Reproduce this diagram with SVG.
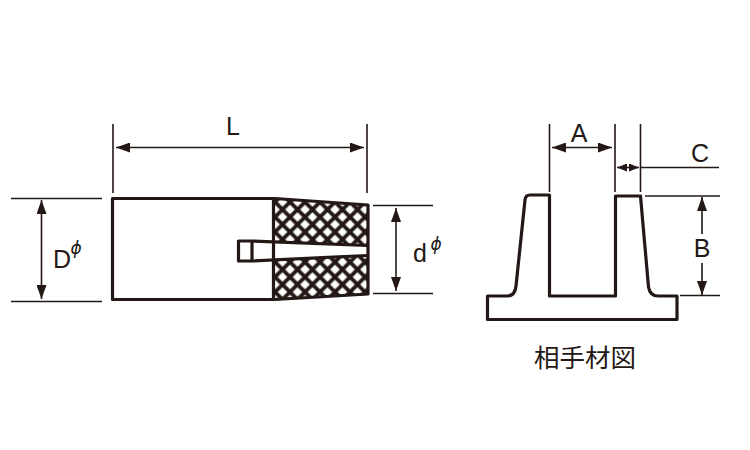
<svg xmlns="http://www.w3.org/2000/svg" width="750" height="450" viewBox="0 0 750 450">
<style>
.o{fill:none;stroke:#231815;stroke-width:3.200;stroke-linejoin:round}
.d{fill:none;stroke:#231815;stroke-width:1.600}
.a{fill:none;stroke:#231815;stroke-width:1.600;marker-start:url(#ah);marker-end:url(#ah)}
.b{fill:none;stroke:#231815;stroke-width:1.600;marker-start:url(#ah)}
.s{fill:none;stroke:#231815;stroke-width:1.600;marker-start:url(#as);marker-end:url(#as)}
.t{font-family:"Liberation Sans",Arial,sans-serif;font-size:25px;fill:#231815;text-anchor:middle}
.p{font-family:"DejaVu Sans",sans-serif;font-style:italic;font-size:17px;fill:#231815;text-anchor:middle}
</style>
<defs>
<marker id="ah" viewBox="0 0 14 10" refX="14" refY="5" markerWidth="14" markerHeight="10" markerUnits="userSpaceOnUse" orient="auto-start-reverse"><path d="M14 5L0 0V10Z" fill="#231815"/></marker>
<marker id="as" viewBox="0 0 10 8" refX="10" refY="4" markerWidth="10" markerHeight="8" markerUnits="userSpaceOnUse" orient="auto-start-reverse"><path d="M10 4L0 0V8Z" fill="#231815"/></marker>
<pattern id="x" width="15" height="15" patternUnits="userSpaceOnUse" patternTransform="translate(12.5 14.5)"><rect width="15" height="15" fill="#fff"/><path d="M-1-1L16 16M16-1L-1 16" stroke="#231815" stroke-width="3.800"/></pattern>
</defs>
<rect width="750" height="450" fill="#fff"/>
<g id="connectors">
<path class="d" d="M113 124V193M367 124V193M11 198.500H102M11 301.500H102M373 205.500H433M373 293.500H433M549.500 124V192M615 124V192M640.500 124V192M645 196H720M680 295.500H720M640 167.500H719"/>
<path class="a" d="M116 147.500H364"/>
<path class="a" d="M41.500 200V299"/>
<path class="a" d="M396 208V291"/>
<path class="a" d="M552 147.500H612"/>
<path class="b" d="M702 197V234"/>
<path class="b" d="M702 295V263"/>
<path class="s" d="M617 167.500H639"/>
</g>
<g id="body">
<path d="M273 198L368 205V295L273 300Z" fill="url(#x)"/>
<path d="M252 241L368 245.500V255.500L252 260Z" fill="#fff"/>
<path class="o" d="M275 198.500H112.500V299.500H275L368 294V205Z"/>
<path class="o" d="M273.500 198.500V299.500"/>
<path class="o" d="M367 245.500L252 241H238.500V261H252L367 255.500"/>
<path class="o" d="M252 241V261"/>
</g>
<g id="mate">
<path class="o" d="M549.500 195H530Q525.500 195 525 200L516 286Q515 296 507 296H487.500V319.500H677V296H658Q650 296 648.500 287L640.500 196H615.500V296H549.500Z"/>
</g>
<g id="labels">
<text class="t" x="233" y="135">L</text>
<text class="t" x="62" y="268">D</text>
<text class="p" x="76" y="254">ϕ</text>
<text class="t" x="420" y="262">d</text>
<text class="p" x="436" y="250">ϕ</text>
<text class="t" x="579" y="142">A</text>
<text class="t" x="700" y="162">C</text>
<text class="t" x="702" y="257">B</text>
<text x="585" y="367" font-family="'Noto Sans CJK JP',sans-serif" font-size="25.500" fill="#231815" text-anchor="middle">相手材図</text>
</g>
</svg>
